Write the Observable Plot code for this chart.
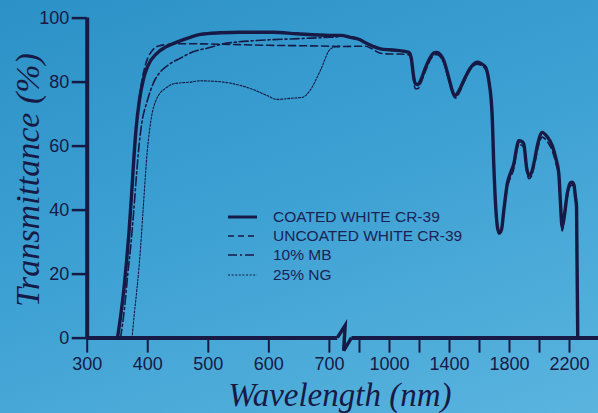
<!DOCTYPE html>
<html>
<head>
<meta charset="utf-8">
<script src="https://cdn.jsdelivr.net/npm/d3@7"></script>
<script src="https://cdn.jsdelivr.net/npm/@observablehq/plot@0.6"></script>
<style>
html, body { margin: 0; padding: 0; }
body { width: 598px; height: 413px; overflow: hidden;
  background: linear-gradient(160deg, #2c91c6 0%, #3ca0d3 45%, #5ab4de 100%); }
#wrap { position: relative; width: 598px; height: 413px; }
#legend { position: absolute; left: 228px; top: 207px;
  font-family: "Liberation Sans", Arial, sans-serif; font-size: 15.5px; color: #1b2254; }
.row { display: flex; align-items: center; height: 19.4px; white-space: nowrap; }
.row svg { width: 29px; height: 8px; margin-right: 16px; flex: none; }
</style>
</head>
<body>
<div id="wrap"><div id="chart"></div><div id="legend"></div></div>
<script>
const NAVY = "#161a45";

// Series names (legend order)
const seriesNames = ["COATED WHITE CR-39", "UNCOATED WHITE CR-39", "10% MB", "25% NG"];

// Coated white CR-39
const coatedNm = [350,356,361,365,369,373,377,381,386,393,400,415,430,448,470,487,520,553,607,646,700,737,770,800,840,900,940,1000,1051,1129,1145,1160,1173,1190,1207,1240,1273,1300,1318,1340,1362,1400,1425,1440,1460,1495,1540,1570,1585,1610,1640,1662,1684,1695,1711,1729,1745,1762,1785,1810,1829,1850,1862,1880,1895,1915,1929,1945,1962,1990,2018,2050,2085,2110,2129,2140,2151,2165,2185,2205,2218,2229,2240,2247,2255];
const coatedPct = [0,8,16,24,33,44,56,66,74,81,85,89,91,92.5,94,94.9,95.4,95.6,95.6,95.1,94.6,94.6,94,93.3,92.3,91,90.4,90.1,89.9,89.3,87.5,82,79.5,79.2,80.5,84.5,87.8,89.2,89.3,88.5,86.7,80.5,76.5,75.8,77,80.5,84.5,86,86.2,85.8,84.7,80.5,70,54.5,38.9,33.1,33.6,39.9,48.2,52,54.5,60,61.7,61.5,60.7,53,50.8,51.5,54.5,61,64.3,63,60.2,56,51.3,42,34.7,38,45.1,48.5,48.7,48,44,41,0];

// Uncoated white CR-39
const uncoatedNm = [350,356,361,365,369,373,377,381,386,393,400,408,418,435,460,500,600,700,737,800,840,880,940,1000,1051,1129,1145,1160,1173,1190,1207,1240,1273,1300,1318,1340,1362,1400,1425,1440,1460,1495,1540,1570,1585,1610,1640,1662,1684,1695,1711,1729,1745,1762,1785,1810,1829,1850,1862,1880,1895,1915,1929,1945,1962,1990,2018,2050,2085,2110,2129,2140,2151,2165,2185,2205,2218,2229,2240,2247,2255];
const uncoatedPct = [0,8,16,24,33,44,56,66,75,83,87.5,90,91.3,91.8,92,91.9,91.5,91.2,91.1,91.2,91.2,90.5,89,88.8,88.8,88.5,86.5,80.5,77.9,78,79.5,83.5,87,88.5,88.6,87.8,86,79.8,75.8,75,76.2,79.8,84,85.4,85.6,85.2,84,80,69,53.5,38,32.5,33,39,47,50.5,53,59,60.5,60.3,59.5,52,49.8,50.5,53.2,59.5,62.8,61.5,58.5,54.5,50,40.5,33.5,37,44,47.5,47.8,47,43,40,0];

// 10% MB
const mbNm = [355,362,367,372,377,381,385,390,399,410,420,435,454,475,498,525,541,580,650,700,737];
const mbPct = [0,10,20,29,40,50,59,67,74,80,83,85.5,87.5,89.5,90.6,92,92.4,93,93.6,94,94.2];

// 25% NG
const ngNm = [374,378,382,388,393,399,403,407,413,420,429,443,470,487,525,541,575,597,613,640,655,668,685,704,737];
const ngPct = [0,8,15,28,42,58,65,70,74,76.5,78,79.5,80,80.4,80,79.5,77.6,75.8,74.6,75,75.2,77.4,83.6,90.4,91.4];

// Axes
const xTicks = [300,400,500,600,700,800,1000,1200,1400,1600,1800,2000,2200];
const xTickLabels = [300,400,500,600,700,1000,1400,1800,2200];
const yTicks = [0,20,40,60,80,100];
// broken axis: piecewise scale
const xDomain = [300, 700, 800, 2400];
const xRange = [86.7, 328.9, 359, 599];
const breakNm = [728, 775];

const styles = [
  {strokeWidth: 3.4, dash: null},
  {strokeWidth: 1.6, dash: "7,4"},
  {strokeWidth: 1.6, dash: "9,3,2,3"},
  {strokeWidth: 1.1, dash: "2,1.6"}
];

const rows = (nm, pct) => nm.map((x, i) => ({x, y: pct[i]}));
const series = [rows(coatedNm, coatedPct), rows(uncoatedNm, uncoatedPct), rows(mbNm, mbPct), rows(ngNm, ngPct)];

const axisSegments = [{x1: xDomain[0], x2: breakNm[0]}, {x1: breakNm[1], x2: xDomain[3]}];

function breakGlyph(index, scales) {
  const xl = scales.x(breakNm[0]), xr = scales.x(breakNm[1]), y0 = scales.y(0);
  const w = xr - xl;
  const p = d3.path();
  p.moveTo(xl, y0);
  p.lineTo(xl + w * 0.55, y0 - 12);
  p.lineTo(xl + w * 0.45, y0 + 13);
  p.lineTo(xr, y0);
  return d3.create("svg:path").attr("d", p.toString()).attr("fill", "none")
    .attr("stroke", NAVY).attr("stroke-width", 3.5).attr("stroke-linejoin", "miter").node();
}

const lineMarks = series.map((d, i) => Plot.line(d, {
  x: "x", y: "y", stroke: NAVY, strokeWidth: styles[i].strokeWidth,
  strokeDasharray: styles[i].dash || undefined, curve: "monotone-x", strokeLinejoin: "round"
}));

const plot = Plot.plot({
  width: 598, height: 413,
  marginLeft: 86.7, marginRight: 0, marginTop: 17.6, marginBottom: 75.4,
  style: {background: "transparent", color: NAVY, fontFamily: "'Liberation Sans', Arial, sans-serif", overflow: "visible"},
  x: {type: "linear", domain: xDomain, range: xRange},
  y: {domain: [0, 100]},
  marks: [
    Plot.axisY({ticks: yTicks, tickSize: 15, tickPadding: 3, strokeWidth: 2.5, fontSize: 18, label: null, fill: NAVY, stroke: NAVY}),
    Plot.axisX({ticks: xTicks, tickSize: 15, tickPadding: 4, strokeWidth: 2, fontSize: 18, label: null,
      tickFormat: d => xTickLabels.includes(d) ? String(d) : "", fill: NAVY, stroke: NAVY}),
    Plot.ruleX([xDomain[0]], {y1: 0, y2: 100, stroke: NAVY, strokeWidth: 4}),
    Plot.ruleY(axisSegments, {y: () => 0, x1: "x1", x2: "x2", stroke: NAVY, strokeWidth: 4}),
    breakGlyph,
    ...lineMarks,
    Plot.text(["Transmittance (%)"], {text: d => d, frameAnchor: "left", dx: -59, dy: 2, rotate: -90,
      fontSize: 34, fontStyle: "italic", fontFamily: "'Liberation Serif', 'Times New Roman', serif",
      fill: NAVY, textAnchor: "middle", lineAnchor: "middle"}),
    Plot.text(["Wavelength (nm)"], {text: d => d, frameAnchor: "bottom", dy: 57, dx: -3,
      fontSize: 33, fontStyle: "italic", fontFamily: "'Liberation Serif', 'Times New Roman', serif",
      fill: NAVY, textAnchor: "middle", lineAnchor: "middle"})
  ]
});
document.getElementById("chart").appendChild(plot);

// Legend (inside the plot area)
const legend = d3.select("#legend");
seriesNames.forEach((name, i) => {
  const row = legend.append("div").attr("class", "row");
  const svg = row.append("svg").attr("viewBox", "0 0 29 8");
  svg.append("line").attr("x1", 0).attr("x2", 29).attr("y1", 4).attr("y2", 4)
    .attr("stroke", NAVY).attr("stroke-width", i === 0 ? 3 : styles[i].strokeWidth)
    .attr("stroke-dasharray", styles[i].dash === "7,4" ? "6,4" : styles[i].dash);
  row.append("span").text(name);
});
</script>
</body>
</html>
